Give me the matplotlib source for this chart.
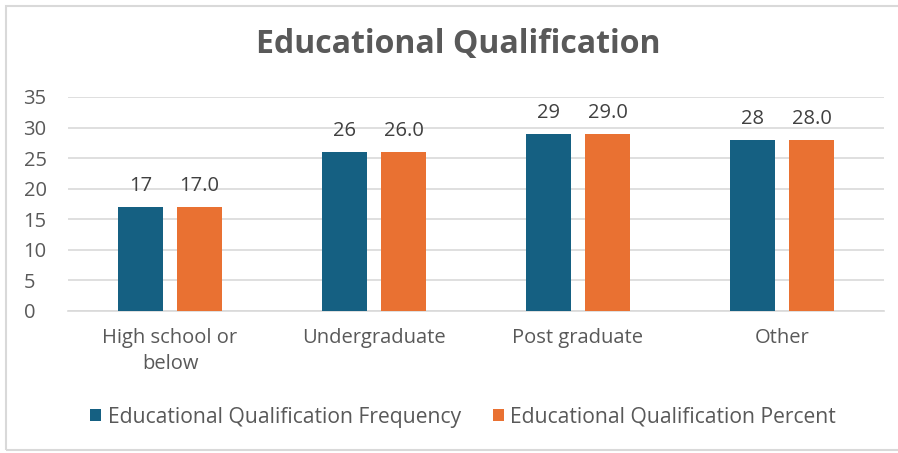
import matplotlib
matplotlib.use("Agg")
import matplotlib.pyplot as plt
import numpy as np
from matplotlib.patches import Rectangle

categories = ["High school or\nbelow", "Undergraduate", "Post graduate", "Other"]
frequency = [17, 26, 29, 28]
percent = [17.0, 26.0, 29.0, 28.0]
series_names = ["Educational Qualification Frequency", "Educational Qualification Percent"]
yticks = [0, 5, 10, 15, 20, 25, 30, 35]

plt.rcParams['font.family'] = ['Open Sans', 'DejaVu Sans']
blue = "#156082"
orange = "#E97132"
txt = "#595959"
grid = "#D9D9D9"
fs = 14.5

fig = plt.figure(figsize=(8.98, 4.53), dpi=100)
fig.patches.append(Rectangle((6/898, 3/453), 1.5, (450-3)/453 - 3/453 + 0.0, transform=fig.transFigure,
                             fill=False, edgecolor="#D9D9D9", linewidth=1.5))
ax = fig.add_axes([68/898, 1-311/453, (884-68)/898, (311-97)/453])

x = np.arange(len(categories))
w = 0.22
off = 0.145
b1 = ax.bar(x - off, frequency, w, color=blue, label=series_names[0], zorder=3)
b2 = ax.bar(x + off, percent, w, color=orange, label=series_names[1], zorder=3)
for rect, v in zip(b1, frequency):
    ax.annotate(f"{v}", (rect.get_x() + rect.get_width()/2, v), xytext=(0, 8),
                textcoords="offset points", ha="center", va="bottom", fontsize=fs, color="#404040")
for rect, v in zip(b2, percent):
    ax.annotate(f"{v:.1f}", (rect.get_x() + rect.get_width()/2, v), xytext=(0, 8),
                textcoords="offset points", ha="center", va="bottom", fontsize=fs, color="#404040")

ax.set_xlim(-0.5, len(categories) - 0.5)
ax.set_ylim(0, 35)
ax.set_yticks(yticks)
ax.yaxis.grid(True, color=grid, linewidth=1.2, zorder=0)
for s in ["top", "right", "left"]:
    ax.spines[s].set_visible(False)
ax.spines["bottom"].set_color(grid)
ax.spines["bottom"].set_linewidth(1.2)
ax.tick_params(axis="both", length=0, labelsize=fs, colors=txt)
ax.tick_params(axis="x", pad=12)
ax.set_xticks(x)
ax.set_xticklabels(categories, linespacing=1.45)
for lab in ax.get_yticklabels():
    lab.set_horizontalalignment("left")
ax.yaxis.set_tick_params(pad=32)

fig.text(458/898, 1-45/453, "Educational Qualification", ha="center", va="center",
         fontsize=23, fontweight="bold", color=txt)

fig.legend(handles=[b1, b2], labels=series_names, loc="center", bbox_to_anchor=(463/898, 1-417/453),
           ncol=2, frameon=False, fontsize=15.2, labelcolor=txt, handlelength=0.55, handleheight=0.55,
           handletextpad=0.3, columnspacing=1.5)

fig.savefig("out.png", dpi=100)
